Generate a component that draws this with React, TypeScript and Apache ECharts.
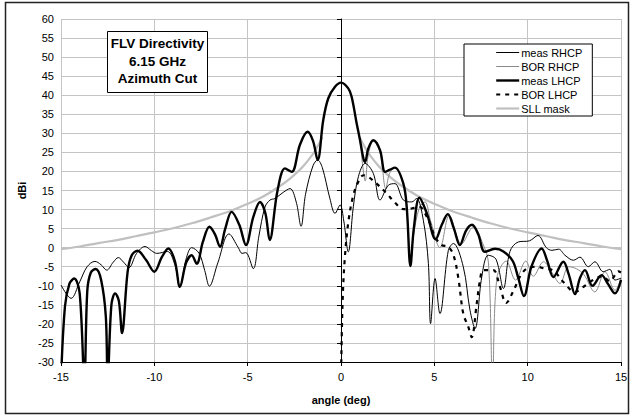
import React, { useEffect, useRef } from "react";
import * as echarts from "echarts";

const xTicks = [-15, -10, -5, 0, 5, 10, 15];
const yRange = { min: -30, max: 60, step: 5 };

const measRhcp: [number, number][] = [
  [-15, -9.8], [-14.46, -13.3], [-14.0, -9], [-13.6, -5], [-13.18, -3.6], [-12.85, -4.5], [-12.55, -5.9],
  [-12.2, -3.8], [-11.93, -2.6], [-11.65, -3.8], [-11.36, -5.2], [-10.95, -1.5], [-10.5, 0.3], [-10.15, -0.8],
  [-9.87, -1.5], [-9.3, -1.0], [-8.9, -4.5], [-8.63, -10.1], [-8.3, -3], [-8.0, 0], [-7.6, -1.5], [-7.3, -6],
  [-7.05, -10.1], [-6.6, -4], [-6.0, 3.6], [-5.5, 0], [-5.3, -1.5], [-5.1, -1.3], [-4.7, -5.5], [-4.4, 3],
  [-4.07, 10.7], [-3.8, 12.5], [-3.54, 12.9], [-3.1, 14.5], [-2.73, 15.5], [-2.4, 12], [-2.14, 5.6], [-1.9, 14],
  [-1.5, 21.5], [-1.25, 23.0], [-1.0, 21], [-0.6, 13], [-0.32, 9.0], [-0.05, 11.2], [0.15, 7], [0.39, -1.1],
  [0.66, 10.7], [0.93, 18.6], [1.29, 22.1], [1.73, 19.5], [2.09, 12.5], [2.54, 16.4], [2.89, 16.8], [3.34, 12.5],
  [3.79, 12.0], [4.05, 12.9], [4.41, 7.2], [4.68, -4.1], [4.8, -19.9], [5.04, -8.1], [5.3, -17.3], [5.75, -0.7],
  [6.02, 1.1], [6.55, -5.0], [6.91, -16.4], [7.18, -21.2], [7.54, -7.7], [7.89, -2.0], [8.3, -3], [8.7, -10.7],
  [9.05, -1.0], [9.5, 1.5], [10.1, 1.8], [10.55, 3.2], [11.0, 0], [11.3, -0.7], [11.66, -0.4], [12.0, -2.0],
  [12.45, -3.3], [12.8, -2.5], [13.25, -5.0], [13.6, -3.7], [14.05, -6.3], [14.4, -5.7], [14.68, -8.5], [15, -8.0],
];

const borRhcp: [number, number][] = [
  [0, 43.3], [0.2, 43], [0.4, 41.5], [0.57, 39.6], [0.84, 32.6], [1.02, 28.2], [1.15, 22], [1.3, 17.5],
  [1.45, 24], [1.73, 28.0], [2.09, 25.0], [2.4, 15.5], [2.6, 19.5], [2.89, 21.0], [3.34, 16.8], [3.52, 10.7],
  [3.72, -4.8], [3.88, 3], [4.2, 10.5], [4.5, 12.0], [4.8, 7], [5.3, 0.0], [5.8, 8.5], [6.45, 1.0], [7.1, 5.5],
  [7.6, 1], [7.9, -4], [8.12, -35], [8.35, -8], [8.85, -3.5], [9.35, -8.5], [9.9, -3.5], [10.3, -7.5],
  [10.85, -3.7], [11.3, -6.5], [11.73, -9.4], [12.2, -5], [12.6, -5.5], [13.0, -7], [13.6, -11.6],
  [14.14, -6.3], [14.68, -11.2], [15, -8],
];

const measLhcp: [number, number][] = [
  [-15, -35], [-14.79, -15.5], [-14.55, -9.5], [-14.29, -8.1], [-14.0, -12], [-13.75, -35], [-13.59, -11.2],
  [-13.4, -6.5], [-13.14, -5.6], [-12.85, -8.5], [-12.6, -18], [-12.5, -35], [-12.3, -15], [-12.1, -12.0],
  [-11.9, -14], [-11.73, -22.4], [-11.43, -6.3], [-11.21, -2.0], [-10.9, -0.8], [-10.45, -3.2], [-10.0, -6.3],
  [-9.6, -2.5], [-9.25, -0.2], [-8.9, -3.5], [-8.63, -10.3], [-8.3, -4], [-8.0, -2.0], [-7.73, -4.2],
  [-7.4, 1.5], [-7.05, 5.5], [-6.75, 3.5], [-6.48, 0.2], [-6.2, 5], [-5.86, 9.4], [-5.45, 6], [-5.09, 0.7],
  [-4.7, 8], [-4.34, 12.0], [-4.05, 9], [-3.82, 2.0], [-3.4, 15], [-3.0, 20.8], [-2.64, 19.9], [-2.2, 27],
  [-1.79, 30.4], [-1.5, 28], [-1.25, 23.0], [-0.95, 33.5], [-0.68, 39.2], [-0.32, 42.2], [0, 43.3],
  [0.39, 41.8], [0.57, 39.6], [0.84, 32.6], [1.02, 28.2], [1.2, 23.4], [1.29, 22.5], [1.46, 26.0],
  [1.73, 28.2], [2.09, 25.6], [2.36, 19.9], [2.6, 20.4], [2.89, 21.0], [3.34, 16.8], [3.52, 10.7],
  [3.72, -4.8], [3.9, 5], [4.2, 13.1], [4.6, 9], [5.07, 2.2], [5.4, 6], [5.72, 8.8], [6.05, 5], [6.37, 0.7],
  [6.7, 4.5], [7.02, 6.0], [7.35, 3.5], [7.71, -1.1], [8.25, -0.3], [8.7, -1.0], [9.2, -3.5], [9.5, -8],
  [9.8, -12.7], [10.2, -5], [10.75, -0.2], [11.05, -3.5], [11.38, -7.7], [11.91, -3.7], [12.2, -7],
  [12.54, -12.2], [12.8, -8], [13.07, -5.9], [13.47, -10.0], [13.96, -7.2], [14.3, -9.5], [14.68, -12.0],
  [15, -8.5],
];

const borLhcp: [number, number][] = [
  [0, -35], [0.08, -15], [0.2, -3], [0.4, 7], [0.66, 13.8], [0.9, 17], [1.2, 19], [1.45, 18.6], [1.91, 16.8],
  [2.45, 14.2], [2.89, 11.8], [3.34, 10.1], [3.8, 10.3], [4.23, 10.7], [4.5, 9.0], [4.77, 6.3], [5.04, 2.8],
  [5.39, 0.7], [5.75, 0.2], [6.03, -2.0], [6.29, -8.1], [6.55, -17.3], [6.82, -20.8], [7.0, -23.5],
  [7.27, -14.7], [7.45, -8.5], [7.62, -5.9], [8.16, -5.9], [8.5, -10], [8.85, -14.5], [9.23, -11.4],
  [9.6, -7.5], [9.95, -5.5], [10.48, -5.0], [10.9, -5.5], [11.38, -6.0], [11.91, -9.0], [12.54, -11.6],
  [13.07, -10.0], [13.5, -8.5], [14.0, -7.5], [14.4, -8.8], [14.86, -6.2], [15, -6.5],
];

const sllMask: ([number, number] | null)[] = [
  [-15, -0.4], [-14, 0.3], [-13, 1.2], [-12, 2.0], [-11, 3.0], [-10, 4.0], [-9, 5.1], [-8, 6.4], [-7, 7.9],
  [-6, 9.5], [-5, 11.5], [-4, 13.9], [-3, 17.1], [-2.5, 19.1], [-2, 21.5], [-1.5, 24.6], [-1.25, 26.6], [-1, 29],
  null,
  [1, 29], [1.25, 26.6], [1.5, 24.6], [2, 21.5], [2.5, 19.1], [3, 17.1], [4, 13.9], [5, 11.5], [6, 9.5],
  [7, 7.9], [8, 6.4], [9, 5.1], [10, 4.0], [11, 3.0], [12, 2.0], [13, 1.2], [14, 0.3], [15, -0.4],
];

const legendNames = ["meas RHCP", "BOR RHCP", "meas LHCP", "BOR LHCP", "SLL mask"];
const titleLines = ["FLV Directivity", "6.15 GHz", "Azimuth Cut"];

const FONT = "'Liberation Sans', Arial, sans-serif";

const styles: Record<string, any> = {
  "meas RHCP": { color: "#000", width: 1 },
  "BOR RHCP": { color: "#8a8a8a", width: 1 },
  "meas LHCP": { color: "#000", width: 2.4 },
  "BOR LHCP": { color: "#000", width: 2.2, type: [4, 5] },
  "SLL mask": { color: "#c0c0c0", width: 2.2 },
};

export default function App() {
  const ref = useRef<HTMLDivElement>(null);
  useEffect(() => {
    document.body.style.margin = "0";
    const chart = echarts.init(ref.current!, undefined, { renderer: "svg" });
    const smooth = 0.35;
    const mk = (name: string, data: any[], z: number, extra: any = {}) => ({
      name,
      type: "line",
      data,
      symbol: "none",
      smooth,
      lineStyle: { ...styles[name] },
      itemStyle: { color: styles[name].color },
      z,
      ...extra,
    });
    chart.setOption({
      animation: false,
      textStyle: { fontFamily: FONT, color: "#000" },
      grid: { left: 61, right: 10, top: 19, bottom: 55, containLabel: false },
      xAxis: {
        type: "value",
        min: xTicks[0],
        max: xTicks[xTicks.length - 1],
        interval: 5,
        name: "angle (deg)",
        nameLocation: "middle",
        nameGap: 32,
        nameTextStyle: { fontWeight: "bold", fontSize: 11, color: "#000", fontFamily: FONT },
        axisLine: { onZero: false, lineStyle: { color: "#000", width: 1 } },
        axisTick: { show: true, inside: false, length: 4, lineStyle: { color: "#000" } },
        axisLabel: { fontSize: 11, color: "#000", margin: 9, fontFamily: FONT },
        splitLine: { show: true, lineStyle: { color: "#c4c4c4", width: 1 } },
      },
      yAxis: {
        type: "value",
        min: yRange.min,
        max: yRange.max,
        interval: yRange.step,
        name: "dBi",
        nameLocation: "middle",
        nameGap: 34,
        nameTextStyle: { fontWeight: "bold", fontSize: 11, color: "#000", fontFamily: FONT },
        axisLine: { show: true, lineStyle: { color: "#000", width: 1 } },
        axisTick: { show: true, inside: false, length: 4, lineStyle: { color: "#000" } },
        axisLabel: { fontSize: 11, color: "#000", margin: 7, fontFamily: FONT },
        splitLine: { show: true, lineStyle: { color: "#c4c4c4", width: 1 } },
      },
      legend: {
        orient: "vertical",
        left: 464,
        top: 44,
        data: legendNames.map((n) => ({ name: n, lineStyle: { ...styles[n] } })),
        itemWidth: 23,
        itemHeight: 11,
        itemGap: 3,
        padding: [3, 10, 2, 31],
        backgroundColor: "#fff",
        borderColor: "#000",
        borderWidth: 1,
        borderRadius: 0,
        itemStyle: { color: "rgba(0,0,0,0)", borderWidth: 0, opacity: 0 },
        textStyle: { fontSize: 11, color: "#000", fontFamily: FONT, padding: [0, 0, 0, -3] },
      },
      graphic: [
        {
          type: "rect",
          shape: { x: 5.5, y: 2.5, width: 623, height: 411 },
          style: { fill: "none", stroke: "#222", lineWidth: 1.5 },
          silent: true,
        },
        {
          type: "rect",
          shape: { x: 107.5, y: 31.5, width: 100, height: 61 },
          style: { fill: "#fff", stroke: "#000", lineWidth: 1 },
          z: 10,
        },
        {
          type: "text",
          x: 157.5,
          y: 35,
          z: 11,
          style: {
            text: titleLines.join("\n"),
            align: "center",
            verticalAlign: "top",
            fontSize: 13.5,
            fontWeight: "bold",
            lineHeight: 17.5,
            fill: "#000",
            fontFamily: FONT,
          },
        },
      ],
      series: [
        mk("SLL mask", sllMask.map((p) => (p ? p : [null, null])), 2, { connectNulls: false }),
        mk("BOR RHCP", borRhcp, 3),
        mk("meas RHCP", measRhcp, 4),
        mk("BOR LHCP", borLhcp, 5),
        mk("meas LHCP", measLhcp, 6),
      ],
    });
    return () => chart.dispose();
  }, []);
  return <div ref={ref} style={{ width: 631, height: 417 }} />;
}
